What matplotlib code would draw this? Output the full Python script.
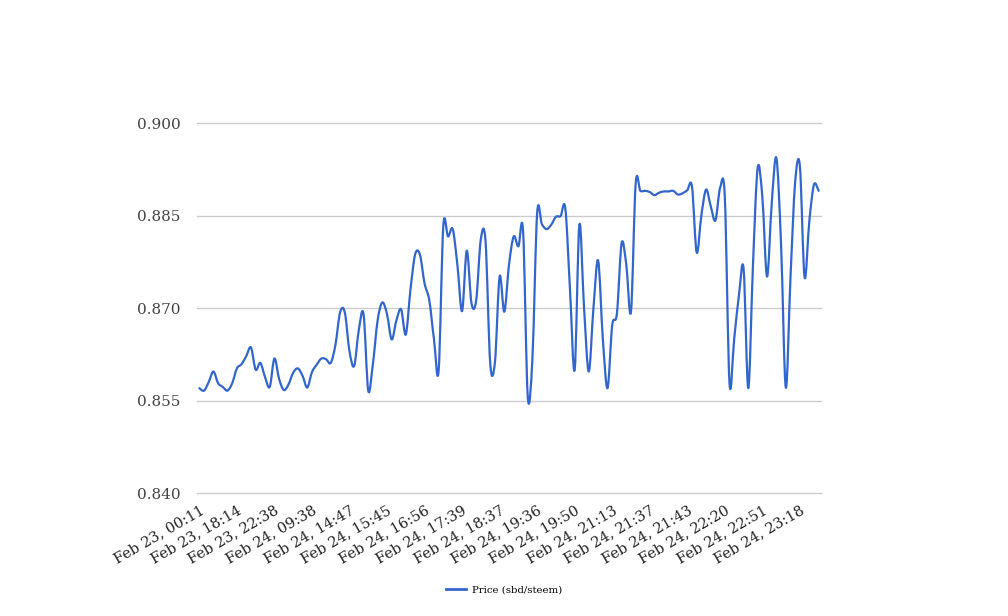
import matplotlib
matplotlib.use("Agg")
import matplotlib.pyplot as plt
from matplotlib.path import Path
from matplotlib.patches import PathPatch
from matplotlib.lines import Line2D
from matplotlib.transforms import ScaledTranslation
import numpy as np

# ---- data ----
tick_labels = ["Feb 23, 00:11", "Feb 23, 18:14", "Feb 23, 22:38", "Feb 24, 09:38",
               "Feb 24, 14:47", "Feb 24, 15:45", "Feb 24, 16:56", "Feb 24, 17:39",
               "Feb 24, 18:37", "Feb 24, 19:36", "Feb 24, 19:50", "Feb 24, 21:13",
               "Feb 24, 21:37", "Feb 24, 21:43", "Feb 24, 22:20", "Feb 24, 22:51",
               "Feb 24, 23:18"]
label_every = 8

price = [
    0.8570, 0.8566, 0.8580, 0.8597, 0.8578, 0.8572, 0.8566, 0.8578, 0.8602, 0.8609,
    0.8622, 0.8636, 0.8600, 0.8611, 0.8588, 0.8572, 0.8618, 0.8585, 0.8567, 0.8576,
    0.8595, 0.8602, 0.8590, 0.8571, 0.8596, 0.8608, 0.8618, 0.8617, 0.8611, 0.8640,
    0.8693, 0.8693, 0.8630, 0.8606, 0.8665, 0.8690, 0.8566, 0.8610, 0.8680, 0.8709,
    0.8690, 0.8649, 0.8680, 0.8698, 0.8657, 0.8730, 0.8787, 0.8787, 0.8740, 0.8713,
    0.8650, 0.8598, 0.8833, 0.8816, 0.8828, 0.8770, 0.8695, 0.8793, 0.8708, 0.8712,
    0.8812, 0.8808, 0.8610, 0.8612, 0.8751, 0.8694, 0.8770, 0.8816, 0.8800, 0.8825,
    0.8556, 0.8620, 0.8854, 0.8836, 0.8828, 0.8835, 0.8848, 0.8849, 0.8862, 0.8730,
    0.8600, 0.8835, 0.8700, 0.8597, 0.8700, 0.8777, 0.8650, 0.8570, 0.8672, 0.8691,
    0.8805, 0.8770, 0.8694, 0.8902, 0.8890, 0.8890, 0.8888, 0.8883, 0.8887, 0.8889,
    0.8889, 0.8890, 0.8884, 0.8886, 0.8891, 0.8897, 0.8790, 0.8850, 0.8892, 0.8865,
    0.8842, 0.8895, 0.8880, 0.8578, 0.8650, 0.8720, 0.8764, 0.8570, 0.8770, 0.8927,
    0.8880, 0.8751, 0.8870, 0.8943, 0.8800, 0.8571, 0.8750, 0.8905, 0.8930, 0.8750,
    0.8840, 0.8900, 0.8890,
]
series_name = "Price (sbd/steem)"
y_ticks = [0.840, 0.855, 0.870, 0.885, 0.900]

# ---- figure ----
plt.rcParams['font.family'] = ['DejaVu Serif']
fig = plt.figure(figsize=(10.08, 6.16), dpi=100)
ax = fig.add_axes([197 / 1008, 1 - 493 / 616, 624 / 1008, 370 / 616])

n = len(price)
x = np.arange(n, dtype=float)
y = np.array(price)

# smooth curve through the points (Catmull-Rom as cubic Bezier segments)
verts = [(x[0], y[0])]
codes = [Path.MOVETO]
for i in range(n - 1):
    p0 = (x[i - 1], y[i - 1]) if i > 0 else (x[i], y[i])
    p1 = (x[i], y[i])
    p2 = (x[i + 1], y[i + 1])
    p3 = (x[i + 2], y[i + 2]) if i + 2 < n else (x[i + 1], y[i + 1])
    c1 = (p1[0] + (p2[0] - p0[0]) / 6, p1[1] + (p2[1] - p0[1]) / 6)
    c2 = (p2[0] - (p3[0] - p1[0]) / 6, p2[1] - (p3[1] - p1[1]) / 6)
    verts += [c1, c2, p2]
    codes += [Path.CURVE4, Path.CURVE4, Path.CURVE4]
color = '#3366CC'
patch = PathPatch(Path(verts, codes), facecolor='none', edgecolor=color,
                  linewidth=1.6, capstyle='round', joinstyle='round', zorder=3)
ax.add_patch(patch)

ax.set_xlim(-0.5, n - 0.5)
ax.set_ylim(0.840, 0.900)
ax.set_yticks(y_ticks)
ax.set_yticklabels([f"{v:.3f}" for v in y_ticks])
ax.grid(False)
for v in y_ticks:
    ax.axhline(v, color='#cccccc', linewidth=1, zorder=1, clip_on=False)

tick_pos = [i * label_every for i in range(len(tick_labels))]
ax.set_xticks(tick_pos)
ax.set_xticklabels(tick_labels, rotation=30, ha='right', rotation_mode='anchor',
                   fontsize=10.5, color='#222222')
shift = ScaledTranslation(-5 / 100, 0, fig.dpi_scale_trans)
for lab in ax.get_xticklabels():
    lab.set_transform(lab.get_transform() + shift)
for lab in ax.get_yticklabels():
    lab.set_fontsize(11)
    lab.set_color('#444444')
ax.tick_params(axis='both', length=0)
ax.tick_params(axis='y', pad=12)
ax.tick_params(axis='x', pad=7.5)
for s in ax.spines.values():
    s.set_visible(False)

handle = Line2D([], [], color=color, linewidth=2)
fig.legend([handle], [series_name], loc='center', bbox_to_anchor=(0.5, 1 - 590 / 616),
           frameon=False, fontsize=7.3, handlelength=2.0, handletextpad=0.5)

fig.savefig("out.png", dpi=100, facecolor='white')
